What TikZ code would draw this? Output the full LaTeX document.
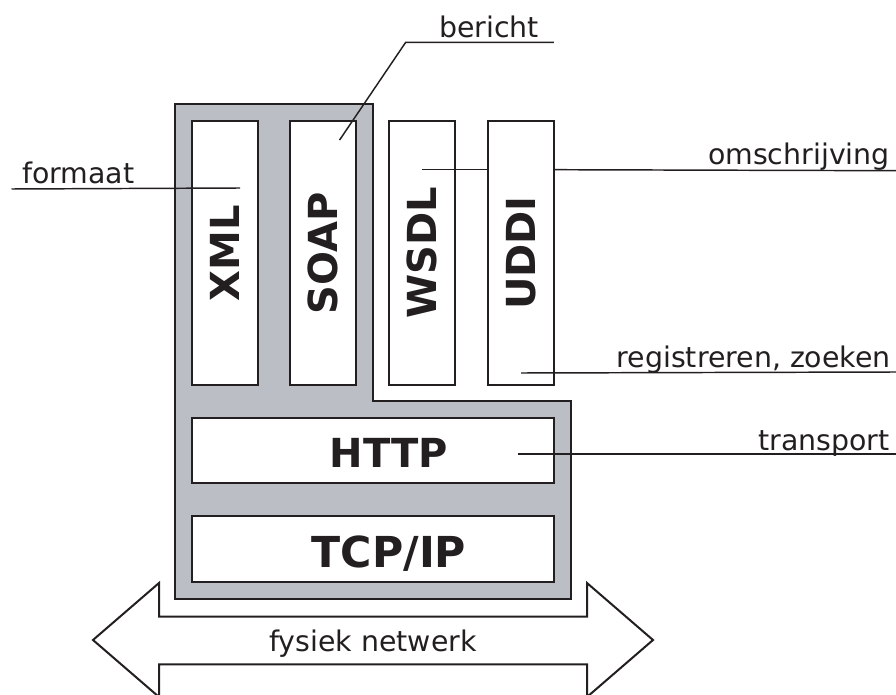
\documentclass[tikz,border=0pt]{standalone}
\usepackage{fontspec}
\setmainfont{DejaVu Sans}
\usepackage{xcolor}
\usepackage{tikz}
\usetikzlibrary{calc}
\definecolor{stackgray}{RGB}{188,190,198}
\definecolor{ink}{RGB}{35,31,32}

\begin{document}
\begin{tikzpicture}[
		x=0.75pt,
		y=-0.75pt,
		stack/.style={
			draw=ink,
			line width=1.5pt,
			fill=stackgray
		},
		col/.style={
			draw=ink,
			line width=1.5pt,
			fill=white,
			minimum width=49.5pt,
			minimum height=198pt,
			inner sep=0pt
		},
		layer/.style={
			draw=ink,
			line width=1.5pt,
			fill=white,
			minimum width=271.5pt,
			minimum height=49pt,
			inner sep=0pt
		},
		leader/.style={draw=ink, line width=1.1pt},
		boldtxt/.style={font=\bfseries\fontsize{30}{36}\selectfont, text=ink, inner sep=0pt},
		lbltxt/.style={font=\fontsize{21.3}{25}\selectfont, text=ink, inner sep=0pt}
	]
	
	% Canvas
	\useasboundingbox (0,0) rectangle (896,695);
	
	% Gray stack
	\path[stack] (175,104) -- (373,104) -- (373,401) -- (571,401) -- (571,599) -- (175,599) -- cycle;
	
	% Columns
	\foreach \name/\cx in {xml/225,soap/323,wsdl/422,uddi/521}{
		\node[col] (\name) at (\cx,253) {};
	}
	\foreach \name/\txt in {xml/XML,soap/SOAP,wsdl/WSDL,uddi/UDDI}{
		\node[boldtxt] (\name-t) at (\name.center) {\rotatebox{90}{\txt}};
	}
	
	% Layers
	\node[layer] (http) at (373,450.5) {};
	\node[layer] (tcpip) at (373,549) {};
	\node[boldtxt, anchor=base] (http-t) at ($(http.center)+(16,16.5)$) {HTTP};
	\node[boldtxt, anchor=base, font=\bfseries\fontsize{32}{38}\selectfont] (tcpip-t) at ($(tcpip.center)+(16,18)$) {TCP/IP};
	
	% Network arrow
	\draw[draw=ink, line width=1.5pt, fill=white]
	(93,640) -- (159,583) -- (159,616.7) -- (587,616.7) -- (587,583) -- (653,640) --
	(587,697) -- (587,664.3) -- (159,664.3) -- (159,697) -- cycle;
	\node[lbltxt, anchor=base] (netwerk) at (373,651.7) {fysiek netwerk};
	
	% Leader: formaat
	\coordinate (fmt-a) at (11.5,189);
	\coordinate (fmt-b) at ($(xml.north west)+(49,68)$);
	\draw[leader] (fmt-a) -- (fmt-b);
	\node[lbltxt, anchor=base west] (formaat) at (22,184) {formaat};
	
	% Leader: bericht
	\coordinate (msg-a) at ($(soap.north west)+(50.6,20)$);
	\coordinate (msg-b) at (405.7,42.3);
	\coordinate (msg-c) at (553.8,42.3);
	\draw[leader] (msg-a) -- (msg-b) -- (msg-c);
	\node[lbltxt, anchor=base west] (bericht) at (439,38) {bericht};
	
	% Leader: omschrijving
	\coordinate (dsc-a) at ($(wsdl.north west)+(34,49.7)$);
	\coordinate (dsc-b) at (896,170.7);
	\draw[leader] (dsc-a) -- (dsc-a -| uddi.west);
	\draw[leader] (uddi.east |- dsc-a) -- (dsc-b);
	\node[lbltxt, anchor=base east] (omschrijving) at (890,165) {omschrijving};
	
	% Leader: registreren, zoeken
	\coordinate (reg-a) at ($(uddi.south west)+(34,-13)$);
	\coordinate (reg-b) at (896,372);
	\draw[leader] (reg-a) -- (reg-b);
	\node[lbltxt, anchor=base east] (registreren) at (891,367) {registreren, zoeken};
	
	% Leader: transport
	\coordinate (trn-a) at ($(http.east)+(-36.6,3.5)$);
	\coordinate (trn-b) at (896,454);
	\draw[leader] (trn-a) -- (trn-b);
	\node[lbltxt, anchor=base east] (transport) at (890,450) {transport};
	
\end{tikzpicture}
\end{document}
